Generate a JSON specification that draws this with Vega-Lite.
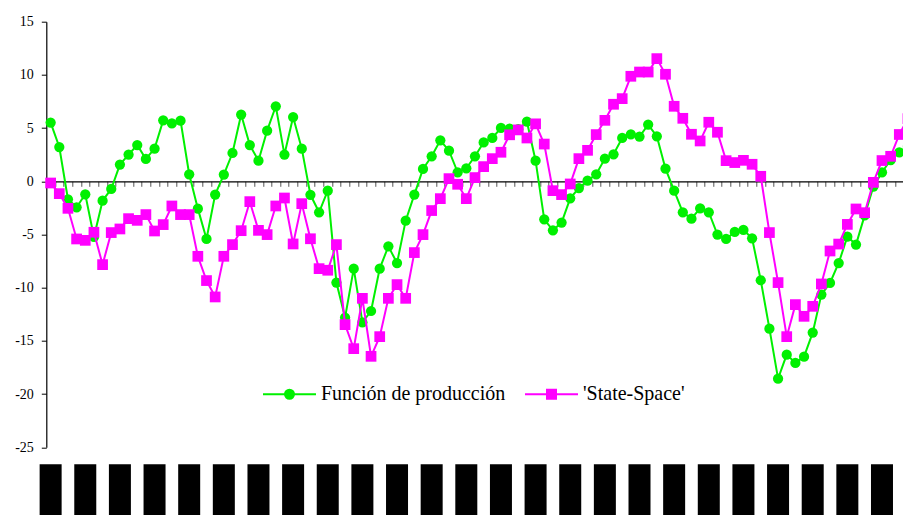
{
  "$schema": "https://vega.github.io/schema/vega-lite/v6.json",
  "width": 866,
  "height": 425.6,
  "autosize": {"type": "none"},
  "padding": {"left": 46.3, "top": 21.7, "right": 0, "bottom": 67.7},
  "background": "white",
  "config": {
    "font": "Liberation Serif",
    "view": {"stroke": null},
    "axis": {"grid": false, "labelFont": "Liberation Serif"},
    "axisX": {
      "title": null, "labels": false, "offset": -266, "tickBand": "extent",
      "tickSize": 5, "tickColor": "#555555", "tickWidth": 1,
      "domainColor": "black", "domainWidth": 1.2
    },
    "axisY": {
      "title": null, "values": [-25, -20, -15, -10, -5, 0, 5, 10, 15],
      "labelExpr": "'' + datum.value",
      "labelFont": "Liberation Serif", "labelFontSize": 14, "labelColor": "black",
      "labelPadding": 8, "tickSize": 5, "tickColor": "black", "tickWidth": 1,
      "domainColor": "black", "domainWidth": 1.2
    }
  },
  "datasets": {
    "anios": [
      {"t": 1}, {"t": 5}, {"t": 9}, {"t": 13}, {"t": 17}, {"t": 21}, {"t": 25}, {"t": 29}, {"t": 33}, {"t": 37},
      {"t": 41}, {"t": 45}, {"t": 49}, {"t": 53}, {"t": 57}, {"t": 61}, {"t": 65}, {"t": 69}, {"t": 73}, {"t": 77},
      {"t": 81}, {"t": 85}, {"t": 89}, {"t": 93}, {"t": 97}
    ],
    "series": [
      {"t": 1, "serie": "Función de producción", "valor": 5.52},
      {"t": 2, "serie": "Función de producción", "valor": 3.22},
      {"t": 3, "serie": "Función de producción", "valor": -1.69},
      {"t": 4, "serie": "Función de producción", "valor": -2.44},
      {"t": 5, "serie": "Función de producción", "valor": -1.22},
      {"t": 6, "serie": "Función de producción", "valor": -5.23},
      {"t": 7, "serie": "Función de producción", "valor": -1.82},
      {"t": 8, "serie": "Función de producción", "valor": -0.72},
      {"t": 9, "serie": "Función de producción", "valor": 1.57},
      {"t": 10, "serie": "Función de producción", "valor": 2.51},
      {"t": 11, "serie": "Función de producción", "valor": 3.41},
      {"t": 12, "serie": "Función de producción", "valor": 2.10},
      {"t": 13, "serie": "Función de producción", "valor": 3.07},
      {"t": 14, "serie": "Función de producción", "valor": 5.73},
      {"t": 15, "serie": "Función de producción", "valor": 5.45},
      {"t": 16, "serie": "Función de producción", "valor": 5.70},
      {"t": 17, "serie": "Función de producción", "valor": 0.66},
      {"t": 18, "serie": "Función de producción", "valor": -2.57},
      {"t": 19, "serie": "Función de producción", "valor": -5.42},
      {"t": 20, "serie": "Función de producción", "valor": -1.25},
      {"t": 21, "serie": "Función de producción", "valor": 0.63},
      {"t": 22, "serie": "Función de producción", "valor": 2.66},
      {"t": 23, "serie": "Función de producción", "valor": 6.27},
      {"t": 24, "serie": "Función de producción", "valor": 3.41},
      {"t": 25, "serie": "Función de producción", "valor": 1.94},
      {"t": 26, "serie": "Función de producción", "valor": 4.76},
      {"t": 27, "serie": "Función de producción", "valor": 7.05},
      {"t": 28, "serie": "Función de producción", "valor": 2.51},
      {"t": 29, "serie": "Función de producción", "valor": 6.04},
      {"t": 30, "serie": "Función de producción", "valor": 3.07},
      {"t": 31, "serie": "Función de producción", "valor": -1.27},
      {"t": 32, "serie": "Función de producción", "valor": -2.91},
      {"t": 33, "serie": "Función de producción", "valor": -0.88},
      {"t": 34, "serie": "Función de producción", "valor": -9.52},
      {"t": 35, "serie": "Función de producción", "valor": -12.81},
      {"t": 36, "serie": "Función de producción", "valor": -8.21},
      {"t": 37, "serie": "Función de producción", "valor": -13.25},
      {"t": 38, "serie": "Función de producción", "valor": -12.19},
      {"t": 39, "serie": "Función de producción", "valor": -8.21},
      {"t": 40, "serie": "Función de producción", "valor": -6.11},
      {"t": 41, "serie": "Función de producción", "valor": -7.68},
      {"t": 42, "serie": "Función de producción", "valor": -3.70},
      {"t": 43, "serie": "Función de producción", "valor": -1.25},
      {"t": 44, "serie": "Función de producción", "valor": 1.16},
      {"t": 45, "serie": "Función de producción", "valor": 2.35},
      {"t": 46, "serie": "Función de producción", "valor": 3.85},
      {"t": 47, "serie": "Función de producción", "valor": 2.88},
      {"t": 48, "serie": "Función de producción", "valor": 0.85},
      {"t": 49, "serie": "Función de producción", "valor": 1.22},
      {"t": 50, "serie": "Función de producción", "valor": 2.35},
      {"t": 51, "serie": "Función de producción", "valor": 3.65},
      {"t": 52, "serie": "Función de producción", "valor": 4.07},
      {"t": 53, "serie": "Función de producción", "valor": 5.01},
      {"t": 54, "serie": "Función de producción", "valor": 4.95},
      {"t": 55, "serie": "Función de producción", "valor": 4.90},
      {"t": 56, "serie": "Función de producción", "valor": 5.60},
      {"t": 57, "serie": "Función de producción", "valor": 1.94},
      {"t": 58, "serie": "Función de producción", "valor": -3.57},
      {"t": 59, "serie": "Función de producción", "valor": -4.61},
      {"t": 60, "serie": "Función de producción", "valor": -3.88},
      {"t": 61, "serie": "Función de producción", "valor": -1.60},
      {"t": 62, "serie": "Función de producción", "valor": -0.63},
      {"t": 63, "serie": "Función de producción", "valor": 0.06},
      {"t": 64, "serie": "Función de producción", "valor": 0.66},
      {"t": 65, "serie": "Función de producción", "valor": 2.13},
      {"t": 66, "serie": "Función de producción", "valor": 2.54},
      {"t": 67, "serie": "Función de producción", "valor": 4.07},
      {"t": 68, "serie": "Función de producción", "valor": 4.42},
      {"t": 69, "serie": "Función de producción", "valor": 4.20},
      {"t": 70, "serie": "Función de producción", "valor": 5.33},
      {"t": 71, "serie": "Función de producción", "valor": 4.23},
      {"t": 72, "serie": "Función de producción", "valor": 1.19},
      {"t": 73, "serie": "Función de producción", "valor": -0.88},
      {"t": 74, "serie": "Función de producción", "valor": -2.91},
      {"t": 75, "serie": "Función de producción", "valor": -3.51},
      {"t": 76, "serie": "Función de producción", "valor": -2.54},
      {"t": 77, "serie": "Función de producción", "valor": -2.91},
      {"t": 78, "serie": "Función de producción", "valor": -5.01},
      {"t": 79, "serie": "Función de producción", "valor": -5.42},
      {"t": 80, "serie": "Función de producción", "valor": -4.76},
      {"t": 81, "serie": "Función de producción", "valor": -4.57},
      {"t": 82, "serie": "Función de producción", "valor": -5.36},
      {"t": 83, "serie": "Función de producción", "valor": -9.30},
      {"t": 84, "serie": "Función de producción", "valor": -13.85},
      {"t": 85, "serie": "Función de producción", "valor": -18.55},
      {"t": 86, "serie": "Función de producción", "valor": -16.29},
      {"t": 87, "serie": "Función de producción", "valor": -17.07},
      {"t": 88, "serie": "Función de producción", "valor": -16.48},
      {"t": 89, "serie": "Función de producción", "valor": -14.22},
      {"t": 90, "serie": "Función de producción", "valor": -10.65},
      {"t": 91, "serie": "Función de producción", "valor": -9.55},
      {"t": 92, "serie": "Función de producción", "valor": -7.68},
      {"t": 93, "serie": "Función de producción", "valor": -5.20},
      {"t": 94, "serie": "Función de producción", "valor": -5.95},
      {"t": 95, "serie": "Función de producción", "valor": -3.20},
      {"t": 96, "serie": "Función de producción", "valor": -0.50},
      {"t": 97, "serie": "Función de producción", "valor": 0.85},
      {"t": 98, "serie": "Función de producción", "valor": 2.00},
      {"t": 99, "serie": "Función de producción", "valor": 2.73},
      {"t": 100, "serie": "Función de producción", "valor": 3.30},
      {"t": 1, "serie": "'State-Space'", "valor": -0.16},
      {"t": 2, "serie": "'State-Space'", "valor": -1.16},
      {"t": 3, "serie": "'State-Space'", "valor": -2.54},
      {"t": 4, "serie": "'State-Space'", "valor": -5.42},
      {"t": 5, "serie": "'State-Space'", "valor": -5.55},
      {"t": 6, "serie": "'State-Space'", "valor": -4.79},
      {"t": 7, "serie": "'State-Space'", "valor": -7.83},
      {"t": 8, "serie": "'State-Space'", "valor": -4.82},
      {"t": 9, "serie": "'State-Space'", "valor": -4.48},
      {"t": 10, "serie": "'State-Space'", "valor": -3.51},
      {"t": 11, "serie": "'State-Space'", "valor": -3.67},
      {"t": 12, "serie": "'State-Space'", "valor": -3.13},
      {"t": 13, "serie": "'State-Space'", "valor": -4.67},
      {"t": 14, "serie": "'State-Space'", "valor": -4.07},
      {"t": 15, "serie": "'State-Space'", "valor": -2.32},
      {"t": 16, "serie": "'State-Space'", "valor": -3.13},
      {"t": 17, "serie": "'State-Space'", "valor": -3.13},
      {"t": 18, "serie": "'State-Space'", "valor": -7.05},
      {"t": 19, "serie": "'State-Space'", "valor": -9.33},
      {"t": 20, "serie": "'State-Space'", "valor": -10.87},
      {"t": 21, "serie": "'State-Space'", "valor": -7.05},
      {"t": 22, "serie": "'State-Space'", "valor": -5.95},
      {"t": 23, "serie": "'State-Space'", "valor": -4.64},
      {"t": 24, "serie": "'State-Space'", "valor": -1.91},
      {"t": 25, "serie": "'State-Space'", "valor": -4.61},
      {"t": 26, "serie": "'State-Space'", "valor": -5.01},
      {"t": 27, "serie": "'State-Space'", "valor": -2.32},
      {"t": 28, "serie": "'State-Space'", "valor": -1.57},
      {"t": 29, "serie": "'State-Space'", "valor": -5.89},
      {"t": 30, "serie": "'State-Space'", "valor": -2.10},
      {"t": 31, "serie": "'State-Space'", "valor": -5.40},
      {"t": 32, "serie": "'State-Space'", "valor": -8.21},
      {"t": 33, "serie": "'State-Space'", "valor": -8.36},
      {"t": 34, "serie": "'State-Space'", "valor": -5.95},
      {"t": 35, "serie": "'State-Space'", "valor": -13.47},
      {"t": 36, "serie": "'State-Space'", "valor": -15.73},
      {"t": 37, "serie": "'State-Space'", "valor": -11.00},
      {"t": 38, "serie": "'State-Space'", "valor": -16.45},
      {"t": 39, "serie": "'State-Space'", "valor": -14.60},
      {"t": 40, "serie": "'State-Space'", "valor": -11.00},
      {"t": 41, "serie": "'State-Space'", "valor": -9.71},
      {"t": 42, "serie": "'State-Space'", "valor": -11.00},
      {"t": 43, "serie": "'State-Space'", "valor": -6.70},
      {"t": 44, "serie": "'State-Space'", "valor": -5.01},
      {"t": 45, "serie": "'State-Space'", "valor": -2.75},
      {"t": 46, "serie": "'State-Space'", "valor": -1.63},
      {"t": 47, "serie": "'State-Space'", "valor": 0.25},
      {"t": 48, "serie": "'State-Space'", "valor": -0.28},
      {"t": 49, "serie": "'State-Space'", "valor": -1.63},
      {"t": 50, "serie": "'State-Space'", "valor": 0.35},
      {"t": 51, "serie": "'State-Space'", "valor": 1.38},
      {"t": 52, "serie": "'State-Space'", "valor": 2.13},
      {"t": 53, "serie": "'State-Space'", "valor": 2.73},
      {"t": 54, "serie": "'State-Space'", "valor": 4.37},
      {"t": 55, "serie": "'State-Space'", "valor": 4.83},
      {"t": 56, "serie": "'State-Space'", "valor": 4.07},
      {"t": 57, "serie": "'State-Space'", "valor": 5.40},
      {"t": 58, "serie": "'State-Space'", "valor": 3.50},
      {"t": 59, "serie": "'State-Space'", "valor": -0.88},
      {"t": 60, "serie": "'State-Space'", "valor": -1.25},
      {"t": 61, "serie": "'State-Space'", "valor": -0.25},
      {"t": 62, "serie": "'State-Space'", "valor": 2.13},
      {"t": 63, "serie": "'State-Space'", "valor": 2.91},
      {"t": 64, "serie": "'State-Space'", "valor": 4.39},
      {"t": 65, "serie": "'State-Space'", "valor": 5.73},
      {"t": 66, "serie": "'State-Space'", "valor": 7.24},
      {"t": 67, "serie": "'State-Space'", "valor": 7.77},
      {"t": 68, "serie": "'State-Space'", "valor": 9.87},
      {"t": 69, "serie": "'State-Space'", "valor": 10.27},
      {"t": 70, "serie": "'State-Space'", "valor": 10.27},
      {"t": 71, "serie": "'State-Space'", "valor": 11.53},
      {"t": 72, "serie": "'State-Space'", "valor": 10.06},
      {"t": 73, "serie": "'State-Space'", "valor": 7.05},
      {"t": 74, "serie": "'State-Space'", "valor": 5.92},
      {"t": 75, "serie": "'State-Space'", "valor": 4.42},
      {"t": 76, "serie": "'State-Space'", "valor": 3.79},
      {"t": 77, "serie": "'State-Space'", "valor": 5.55},
      {"t": 78, "serie": "'State-Space'", "valor": 4.61},
      {"t": 79, "serie": "'State-Space'", "valor": 1.94},
      {"t": 80, "serie": "'State-Space'", "valor": 1.76},
      {"t": 81, "serie": "'State-Space'", "valor": 1.97},
      {"t": 82, "serie": "'State-Space'", "valor": 1.60},
      {"t": 83, "serie": "'State-Space'", "valor": 0.47},
      {"t": 84, "serie": "'State-Space'", "valor": -4.82},
      {"t": 85, "serie": "'State-Space'", "valor": -9.52},
      {"t": 86, "serie": "'State-Space'", "valor": -14.60},
      {"t": 87, "serie": "'State-Space'", "valor": -11.59},
      {"t": 88, "serie": "'State-Space'", "valor": -12.69},
      {"t": 89, "serie": "'State-Space'", "valor": -11.75},
      {"t": 90, "serie": "'State-Space'", "valor": -9.65},
      {"t": 91, "serie": "'State-Space'", "valor": -6.55},
      {"t": 92, "serie": "'State-Space'", "valor": -5.90},
      {"t": 93, "serie": "'State-Space'", "valor": -4.05},
      {"t": 94, "serie": "'State-Space'", "valor": -2.60},
      {"t": 95, "serie": "'State-Space'", "valor": -2.95},
      {"t": 96, "serie": "'State-Space'", "valor": -0.10},
      {"t": 97, "serie": "'State-Space'", "valor": 1.95},
      {"t": 98, "serie": "'State-Space'", "valor": 2.35},
      {"t": 99, "serie": "'State-Space'", "valor": 4.40},
      {"t": 100, "serie": "'State-Space'", "valor": 5.90}
    ]
  },
  "layer": [
    {
      "data": {"name": "anios"},
      "mark": {"type": "bar", "size": 22, "color": "black"},
      "encoding": {
        "x": {"field": "t", "type": "ordinal", "scale": {"type": "band", "paddingInner": 0, "paddingOuter": 0}},
        "y": {"datum": -26.6, "type": "quantitative", "scale": {"domain": [-25, 15], "nice": false, "zero": false}},
        "y2": {"datum": -45}
      }
    },
    {
      "data": {"name": "series"},
      "transform": [{"filter": "datum.serie === 'Función de producción'"}],
      "mark": {"type": "line", "strokeWidth": 2},
      "encoding": {
        "x": {"field": "t", "type": "ordinal", "bandPosition": 0.5, "scale": {"type": "band", "paddingInner": 0, "paddingOuter": 0}},
        "y": {"field": "valor", "type": "quantitative", "scale": {"domain": [-25, 15], "nice": false, "zero": false}},
        "color": {
          "field": "serie", "type": "nominal",
          "scale": {"domain": ["Función de producción", "'State-Space'"], "range": ["#00f000", "#ff00ff"]},
          "legend": {
            "title": null, "orient": "none", "legendX": 215.7, "legendY": 344.8,
            "direction": "horizontal", "padding": 0, "columnPadding": 15,
            "labelFont": "Liberation Serif", "labelFontSize": 20, "labelColor": "black",
            "labelOffset": 4, "labelLimit": 400, "symbolSize": 2809, "symbolStrokeWidth": 2,
            "encode": {
              "symbols": {
                "update": {
                  "shape": {"signal": "datum.value === 'Función de producción' ? 'M-1,0H1M0.17,0A0.17,0.17,0,1,1,-0.17,0A0.17,0.17,0,1,1,0.17,0Z' : 'M-1,0H1M-0.17,-0.17H0.17V0.17H-0.17Z'"},
                  "fill": {"scale": "color", "field": "value"},
                  "stroke": {"scale": "color", "field": "value"},
                  "strokeWidth": {"value": 2},
                  "opacity": {"value": 1}
                }
              }
            }
          }
        }
      }
    },
    {
      "data": {"name": "series"},
      "transform": [{"filter": "datum.serie === 'Función de producción'"}],
      "mark": {"type": "point", "filled": true, "shape": "circle", "size": 105, "opacity": 1},
      "encoding": {
        "x": {"field": "t", "type": "ordinal", "bandPosition": 0.5, "scale": {"type": "band", "paddingInner": 0, "paddingOuter": 0}},
        "y": {"field": "valor", "type": "quantitative", "scale": {"domain": [-25, 15], "nice": false, "zero": false}},
        "color": {"field": "serie", "type": "nominal", "scale": {"domain": ["Función de producción", "'State-Space'"], "range": ["#00f000", "#ff00ff"]}, "legend": null}
      }
    },
    {
      "data": {"name": "series"},
      "transform": [{"filter": "datum.serie === \"'State-Space'\""}],
      "mark": {"type": "line", "strokeWidth": 2},
      "encoding": {
        "x": {"field": "t", "type": "ordinal", "bandPosition": 0.5, "scale": {"type": "band", "paddingInner": 0, "paddingOuter": 0}},
        "y": {"field": "valor", "type": "quantitative", "scale": {"domain": [-25, 15], "nice": false, "zero": false}},
        "color": {"field": "serie", "type": "nominal", "scale": {"domain": ["Función de producción", "'State-Space'"], "range": ["#00f000", "#ff00ff"]}, "legend": null}
      }
    },
    {
      "data": {"name": "series"},
      "transform": [{"filter": "datum.serie === \"'State-Space'\""}],
      "mark": {"type": "point", "filled": true, "shape": "square", "size": 115, "opacity": 1},
      "encoding": {
        "x": {"field": "t", "type": "ordinal", "bandPosition": 0.5, "scale": {"type": "band", "paddingInner": 0, "paddingOuter": 0}},
        "y": {"field": "valor", "type": "quantitative", "scale": {"domain": [-25, 15], "nice": false, "zero": false}},
        "color": {"field": "serie", "type": "nominal", "scale": {"domain": ["Función de producción", "'State-Space'"], "range": ["#00f000", "#ff00ff"]}, "legend": null}
      }
    }
  ]
}
